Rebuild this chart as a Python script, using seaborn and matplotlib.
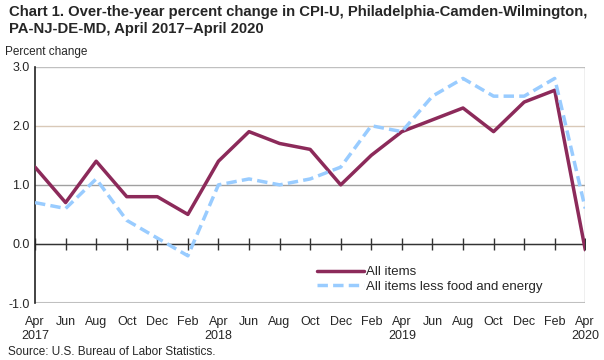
"""
Chart 1. Over-the-year percent change in CPI-U, Philadelphia area, April 2017-April 2020.
Output: out.png
"""

import matplotlib.pyplot as plt
import pandas as pd
import seaborn as sns


MONTHS = ["Apr", "Jun", "Aug", "Oct", "Dec", "Feb", "Apr", "Jun", "Aug", "Oct",
          "Dec", "Feb", "Apr", "Jun", "Aug", "Oct", "Dec", "Feb", "Apr"]
YEARS = {0: "2017", 6: "2018", 12: "2019", 18: "2020"}
ALL_ITEMS = [1.3, 0.7, 1.4, 0.8, 0.8, 0.5, 1.4, 1.9, 1.7, 1.6,
             1.0, 1.5, 1.9, 2.1, 2.3, 1.9, 2.4, 2.6, -0.1]
CORE = [0.7, 0.6, 1.1, 0.4, 0.1, -0.2, 1.0, 1.1, 1.0, 1.1,
        1.3, 2.0, 1.9, 2.5, 2.8, 2.5, 2.5, 2.8, 0.6]
SERIES = ["All items", "All items less food and energy"]
Y_TICKS = [-1.0, 0.0, 1.0, 2.0, 3.0]

COLOR_ALL = "#8c2a5a"
COLOR_CORE = "#99ccff"

sns.set_style("white")
plt.rcParams["font.family"] = ["Liberation Sans", "DejaVu Sans"]


def main() -> None:
    positions = list(range(len(MONTHS)))
    df = pd.DataFrame({
        "pos": positions * 2,
        "value": ALL_ITEMS + CORE,
        "series": [SERIES[0]] * len(positions) + [SERIES[1]] * len(positions),
    })

    fig = plt.figure(figsize=(6.04, 3.6), dpi=100)
    ax = fig.add_axes([0.058, 0.158, 0.911, 0.657])

    for value in Y_TICKS[1:]:
        color = "#d9c9b8" if value == 2.0 else ("#a0a0a0" if value == 1.0 else "#c0c0c0")
        ax.axhline(value, color=color, lw=1, zorder=0)
    ax.axhline(-1.0, color="#c0c0c0", lw=1.5, zorder=0)

    # zero line with tick marks at every data month
    ax.plot(positions, [0] * len(positions), color="#333333", lw=1,
            marker="|", markersize=9, markeredgewidth=1, zorder=1)

    sns.lineplot(
        data=df, x="pos", y="value", hue="series", style="series",
        palette={SERIES[0]: COLOR_ALL, SERIES[1]: COLOR_CORE},
        dashes={SERIES[0]: "", SERIES[1]: (3, 1.5)},
        linewidth=2.5, ax=ax, zorder=3,
    )

    ax.set_xlim(0, len(MONTHS) - 1)
    ax.set_ylim(-1.0, 3.0)
    ax.set_yticks(Y_TICKS)
    ax.set_yticklabels([f"{v:.1f}" for v in Y_TICKS], fontsize=9)
    ax.set_xticks(positions)
    labels = [m + ("\n" + YEARS[i] if i in YEARS else "") for i, m in enumerate(MONTHS)]
    ax.set_xticklabels(labels, fontsize=9, va="top", linespacing=1.25)
    ax.tick_params(axis="both", length=0, pad=4)
    ax.tick_params(axis="x", pad=9)
    for label in ax.get_xticklabels():
        label.set_verticalalignment("top")
    ax.set_xlabel("")
    ax.set_ylabel("")

    for side in ["top", "right", "bottom"]:
        ax.spines[side].set_visible(False)
    ax.spines["left"].set_color("#222222")
    ax.spines["left"].set_linewidth(1.2)
    ax.axvline(len(MONTHS) - 1, color="#b0b0b0", lw=1, zorder=0)

    handles, texts = ax.get_legend_handles_labels()
    ax.legend(handles, texts, loc="upper left", bbox_to_anchor=(0.5, 0.185),
              frameon=False, fontsize=9.5, handlelength=3.6, handletextpad=0.1,
              labelspacing=0.2, borderpad=0)

    fig.text(0.015, 0.985, "Chart 1. Over-the-year percent change in CPI-U, "
             "Philadelphia-Camden-Wilmington,\nPA-NJ-DE-MD, April 2017\u2013April 2020",
             fontsize=10.7, fontweight="bold", va="top", ha="left", linespacing=1.2)
    fig.text(0.008, 0.855, "Percent change", fontsize=8.5, va="center", ha="left")
    fig.text(0.013, 0.022, "Source: U.S. Bureau of Labor Statistics.", fontsize=8.5,
             va="center", ha="left")

    fig.savefig("out.png", dpi=100)
    plt.close(fig)


if __name__ == "__main__":
    main()
